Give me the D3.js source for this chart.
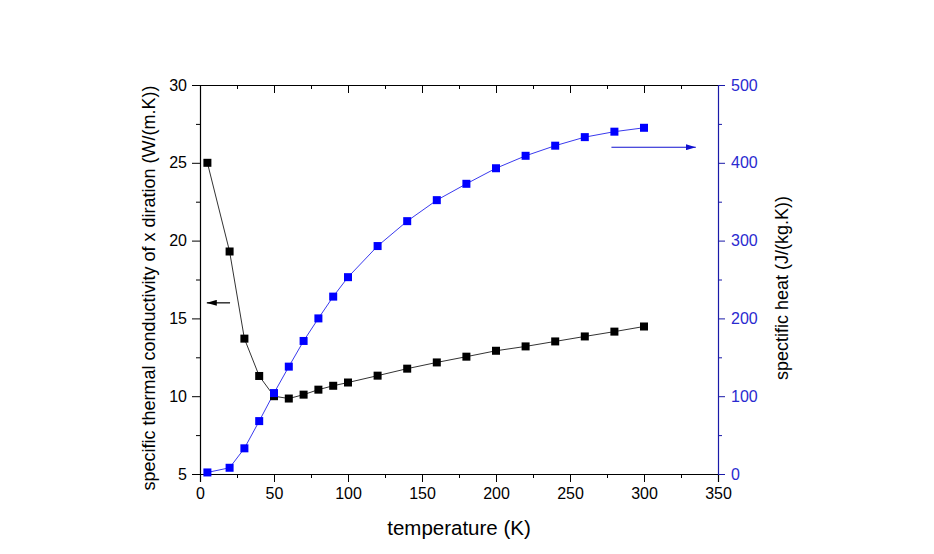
<!DOCTYPE html>
<html>
<head>
<meta charset="utf-8">
<script src="https://cdn.jsdelivr.net/npm/d3@7"></script>
<style>
  html, body { margin: 0; padding: 0; background: #fff; }
  svg { display: block; }
  text { font-family: Arial, "Liberation Sans", sans-serif; }
</style>
</head>
<body>
<svg id="chart" width="934" height="554"></svg>
<script>
// ---- data ----
const temperature = [5, 20, 30, 40, 50, 60, 70, 80, 90, 100, 120, 140, 160, 180, 200, 220, 240, 260, 280, 300];
const conductivity = [25.0, 19.3, 13.7, 11.3, 10.0, 9.85, 10.1, 10.42, 10.67, 10.88, 11.32, 11.77, 12.17, 12.54, 12.92, 13.2, 13.52, 13.84, 14.15, 14.48];
const specificHeat = [2, 8, 33, 68, 104, 138, 171, 200, 228, 253, 293, 325, 352, 373, 393, 409, 422, 433, 440, 445];
const xTicks = [0, 50, 100, 150, 200, 250, 300, 350];
const yLeftTicks = [5, 10, 15, 20, 25, 30];
const yRightTicks = [0, 100, 200, 300, 400, 500];
const xLabel = "temperature (K)";
const yLeftLabel = "specific thermal conductivity of x diration (W/(m.K))";
const yRightLabel = "spectific heat (J/(kg.K))";
// arrow annotations (data coords): [x1, x2, y]
const leftArrow = [20.3, 4.6, 16.0];
const rightArrow = [278, 335, 420];

// ---- layout ----
const L = 200, R = 718, T = 85, B = 474;
const svg = d3.select("#chart");
const x = d3.scaleLinear().domain([0, 350]).range([L, R]);
const yL = d3.scaleLinear().domain([5, 30]).range([B, T]);
const yR = d3.scaleLinear().domain([0, 500]).range([B, T]);

const black = "#000";
const axisBlue = "#1a1aa8";
const labelBlue = "#2a2ad0";
const markBlue = "#0000ff";
const lineBlue = "#3a3aee";

function styleAxis(g, color) {
  g.select(".domain").attr("stroke", color).attr("stroke-width", 1.2);
  g.selectAll(".tick line").attr("stroke", color).attr("stroke-width", 1);
  g.selectAll(".tick text").attr("fill", color).attr("font-size", 16).attr("font-family", "Arial, 'Liberation Sans', sans-serif");
}

const xMinor = d3.range(25, 350, 50);
const yLMinor = d3.range(7.5, 30, 5);
const yRMinor = d3.range(50, 500, 100);

// bottom axis
const gB = svg.append("g").attr("transform", `translate(0,${B})`)
  .call(d3.axisBottom(x).tickValues(xTicks).tickSize(8).tickPadding(6).tickFormat(d3.format("d")));
styleAxis(gB, black);
svg.append("g").attr("transform", `translate(0,${B})`)
  .call(d3.axisBottom(x).tickValues(xMinor).tickSize(4).tickFormat(""))
  .call(g => { g.select(".domain").remove(); g.selectAll("line").attr("stroke", black); });

// top axis (inward ticks)
const gT = svg.append("g").attr("transform", `translate(0,${T})`)
  .call(d3.axisBottom(x).tickValues(xTicks).tickSize(8).tickSizeOuter(0).tickFormat(""));
styleAxis(gT, black);
svg.append("g").attr("transform", `translate(0,${T})`)
  .call(d3.axisBottom(x).tickValues(xMinor).tickSize(4).tickFormat(""))
  .call(g => { g.select(".domain").remove(); g.selectAll("line").attr("stroke", black); });

// left axis
const gL = svg.append("g").attr("transform", `translate(${L},0)`)
  .call(d3.axisLeft(yL).tickValues(yLeftTicks).tickSize(8).tickPadding(5).tickSizeOuter(0).tickFormat(d3.format("d")));
styleAxis(gL, black);
svg.append("g").attr("transform", `translate(${L},0)`)
  .call(d3.axisLeft(yL).tickValues(yLMinor).tickSize(4).tickFormat(""))
  .call(g => { g.select(".domain").remove(); g.selectAll("line").attr("stroke", black); });

// right axis
const gR = svg.append("g").attr("transform", `translate(${R},0)`)
  .call(d3.axisRight(yR).tickValues(yRightTicks).tickSize(7).tickPadding(6).tickSizeOuter(0).tickFormat(d3.format("d")));
styleAxis(gR, axisBlue);
gR.selectAll(".tick text").attr("fill", labelBlue);
svg.append("g").attr("transform", `translate(${R},0)`)
  .call(d3.axisRight(yR).tickValues(yRMinor).tickSize(4).tickFormat(""))
  .call(g => { g.select(".domain").remove(); g.selectAll("line").attr("stroke", axisBlue); });

// axis titles
svg.append("text").attr("x", (L + R) / 2).attr("y", 535).attr("text-anchor", "middle")
  .attr("font-size", 20.5).attr("fill", black).text(xLabel);
svg.append("text").attr("transform", `translate(155,288) rotate(-90)`).attr("text-anchor", "middle")
  .attr("font-size", 18).attr("fill", black).text(yLeftLabel);
svg.append("text").attr("transform", `translate(788,288) rotate(-90)`).attr("text-anchor", "middle")
  .attr("font-size", 18).attr("fill", black).text(yRightLabel);

// series data
const blackData = temperature.map((t, i) => ({ t, v: conductivity[i] }));
const blueData = temperature.map((t, i) => ({ t, v: specificHeat[i] }));

svg.append("path").datum(blackData)
  .attr("fill", "none").attr("stroke", "#333").attr("stroke-width", 1)
  .attr("d", d3.line().x(d => x(d.t)).y(d => yL(d.v)));
svg.append("path").datum(blueData)
  .attr("fill", "none").attr("stroke", lineBlue).attr("stroke-width", 1)
  .attr("d", d3.line().x(d => x(d.t)).y(d => yR(d.v)));

const S = 8;
svg.append("g").selectAll("rect").data(blackData).join("rect")
  .attr("x", d => x(d.t) - S / 2).attr("y", d => yL(d.v) - S / 2)
  .attr("width", S).attr("height", S).attr("fill", "#000");
svg.append("g").selectAll("rect").data(blueData).join("rect")
  .attr("x", d => x(d.t) - S / 2).attr("y", d => yR(d.v) - S / 2)
  .attr("width", S).attr("height", S).attr("fill", markBlue);

// arrows
const defs = svg.append("defs");
function marker(id, color) {
  defs.append("marker").attr("id", id).attr("viewBox", "0 0 10 6")
    .attr("refX", 10).attr("refY", 3).attr("markerWidth", 10).attr("markerHeight", 6)
    .attr("markerUnits", "userSpaceOnUse").attr("orient", "auto")
    .append("path").attr("d", "M0,0 L10,3 L0,6 Z").attr("fill", color);
}
marker("ah-black", "#000");
marker("ah-blue", "#1010d0");
svg.append("line")
  .attr("x1", x(leftArrow[0])).attr("x2", x(leftArrow[1]))
  .attr("y1", yL(leftArrow[2])).attr("y2", yL(leftArrow[2]))
  .attr("stroke", "#000").attr("stroke-width", 1.2).attr("marker-end", "url(#ah-black)");
svg.append("line")
  .attr("x1", x(rightArrow[0])).attr("x2", x(rightArrow[1]))
  .attr("y1", yR(rightArrow[2])).attr("y2", yR(rightArrow[2]))
  .attr("stroke", "#1010d0").attr("stroke-width", 1.2).attr("marker-end", "url(#ah-blue)");
</script>
</body>
</html>
